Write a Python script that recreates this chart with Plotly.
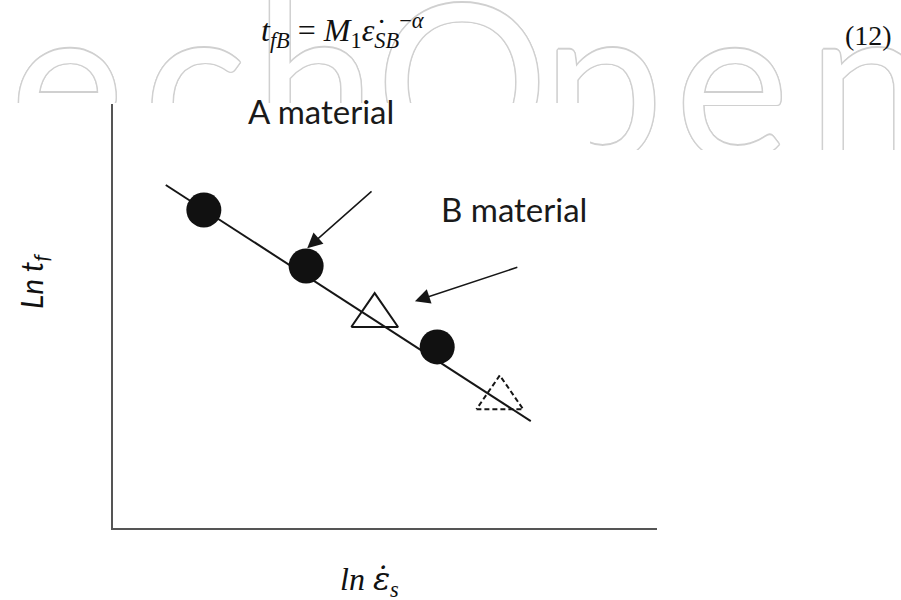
import plotly.graph_objects as go

W, H = 901, 600

# Material A: creep tests (ln strain rate, ln rupture time)
mat_a_x = [1.67, 3.55, 5.96]
mat_a_y = [7.50, 6.18, 4.27]

# Material B: measured point and predicted point
mat_b_x = [4.81, 7.11]
mat_b_y = [5.14, 3.20]
mat_b_dash = ["solid", "5px,3px"]

# Common Monkman-Grant type trend line
fit_x = [0.97, 7.68]
fit_y = [8.09, 2.52]

# Label text and the points they refer to
label_text = ["A material", "B material"]
label_x = [3.82, 7.37]
label_y = [9.83, 7.52]
arrow_tail_x = [4.78, 7.46]
arrow_tail_y = [7.97, 6.16]
arrow_head_x = [3.57, 5.55]
arrow_head_y = [6.60, 5.35]

# Publisher mark in the page background
wm_letters = ["e", "c", "h", "O", "p", "e", "n"]
wm_x = [67, 195, 315, 462, 603, 732, 868]

# triangle half sizes in axis units
TRI_HW, TRI_HH = 0.43, 0.40
INK = "#161616"

fig = go.Figure()

# background mark, split in two clipped panels
oc = "#d0d0d0"
outline = (f"1.5px 0 {oc}, -1.5px 0 {oc}, 0 1.5px {oc}, 0 -1.5px {oc}, "
           f"1px 1px {oc}, -1px -1px {oc}, 1px -1px {oc}, -1px 1px {oc}")
for xa, ya in (("x2", "y2"), ("x3", "y3")):
    fig.add_trace(go.Scatter(
        x=wm_x, y=[105] * len(wm_x), text=wm_letters, mode="text",
        textposition="middle center", cliponaxis=True,
        textfont=dict(family="Lato", size=215, color="white", shadow=outline),
        xaxis=xa, yaxis=ya, hoverinfo="skip", showlegend=False,
    ))

# trend line
fig.add_trace(go.Scatter(
    x=fit_x, y=fit_y, mode="lines",
    line=dict(color=INK, width=2), showlegend=False, hoverinfo="skip",
))

# material B triangles
for bx, by, dash in zip(mat_b_x, mat_b_y, mat_b_dash):
    fig.add_trace(go.Scatter(
        x=[bx - TRI_HW, bx + TRI_HW, bx, bx - TRI_HW],
        y=[by - TRI_HH, by - TRI_HH, by + TRI_HH, by - TRI_HH],
        mode="lines", line=dict(color=INK, width=2, dash=dash),
        showlegend=False, hoverinfo="skip",
    ))

# material A circles
fig.add_trace(go.Scatter(
    x=mat_a_x, y=mat_a_y, mode="markers",
    marker=dict(size=35, color="#111111", line=dict(width=0)),
    showlegend=False, hoverinfo="skip",
))

annotations = []
for t, lx, ly in zip(label_text, label_x, label_y):
    annotations.append(dict(
        x=lx, y=ly, xref="x", yref="y", text=t, showarrow=False,
        font=dict(family="Lato", size=33, color="#1a1a1a"),
        xanchor="center", yanchor="middle",
    ))
for hx, hy, tx, ty in zip(arrow_head_x, arrow_head_y, arrow_tail_x, arrow_tail_y):
    annotations.append(dict(
        x=hx, y=hy, xref="x", yref="y", ax=tx, ay=ty, axref="x", ayref="y",
        text="", showarrow=True, arrowhead=2, arrowsize=2.0, arrowwidth=1.5,
        arrowcolor=INK, standoff=0,
    ))

# equation and its number
annotations.append(dict(
    x=343 / W, y=1 - 30 / H, xref="paper", yref="paper", showarrow=False,
    text="<i>t</i><sub><i>fB</i></sub> = <i>M</i><sub>1</sub><i>ε̇</i>"
         "<sub><i>SB</i></sub><sup>−<i>α</i></sup>",
    font=dict(family="Liberation Serif", size=32, color="#111111"),
    xanchor="center", yanchor="middle",
))
annotations.append(dict(
    x=868 / W, y=1 - 35 / H, xref="paper", yref="paper", showarrow=False,
    text="(12)", font=dict(family="Liberation Serif", size=28, color="#111111"),
    xanchor="center", yanchor="middle",
))

# axis titles
annotations.append(dict(
    x=33 / W, y=1 - 281 / H, xref="paper", yref="paper", showarrow=False,
    text="<i>Ln t<sub>f</sub></i>", textangle=-90,
    font=dict(family="Lato", size=30, color="#111111"),
    xanchor="center", yanchor="middle",
))
annotations.append(dict(
    x=369 / W, y=1 - 581 / H, xref="paper", yref="paper", showarrow=False,
    text="<i>ln <span style=\"font-family:'DejaVu Serif'\">ε̇</span><sub>s</sub></i>",
    font=dict(family="Liberation Serif", size=32, color="#111111"),
    xanchor="center", yanchor="middle",
))

hidden = dict(visible=False, fixedrange=True)
fig.update_layout(
    width=W, height=H, margin=dict(l=0, r=0, t=0, b=0),
    paper_bgcolor="white", plot_bgcolor="rgba(0,0,0,0)",
    showlegend=False,
    xaxis=dict(domain=[113 / W, 657 / W], range=[0, 10], showline=True,
               linecolor="#555555", linewidth=2, showgrid=False, zeroline=False,
               showticklabels=False, ticks="", fixedrange=True),
    yaxis=dict(domain=[1 - 528 / H, 1 - 104 / H], range=[0, 10], showline=True,
               linecolor="#555555", linewidth=2, showgrid=False, zeroline=False,
               showticklabels=False, ticks="", fixedrange=True),
    xaxis2=dict(domain=[0, 590 / W], range=[0, 590], anchor="y2", **hidden),
    yaxis2=dict(domain=[1 - 103 / H, 1], range=[103, 0], anchor="x2", **hidden),
    xaxis3=dict(domain=[590 / W, 1], range=[590, 901], anchor="y3", **hidden),
    yaxis3=dict(domain=[1 - 150 / H, 1], range=[150, 0], anchor="x3", **hidden),
    annotations=annotations,
)

fig.write_html("out.html")
